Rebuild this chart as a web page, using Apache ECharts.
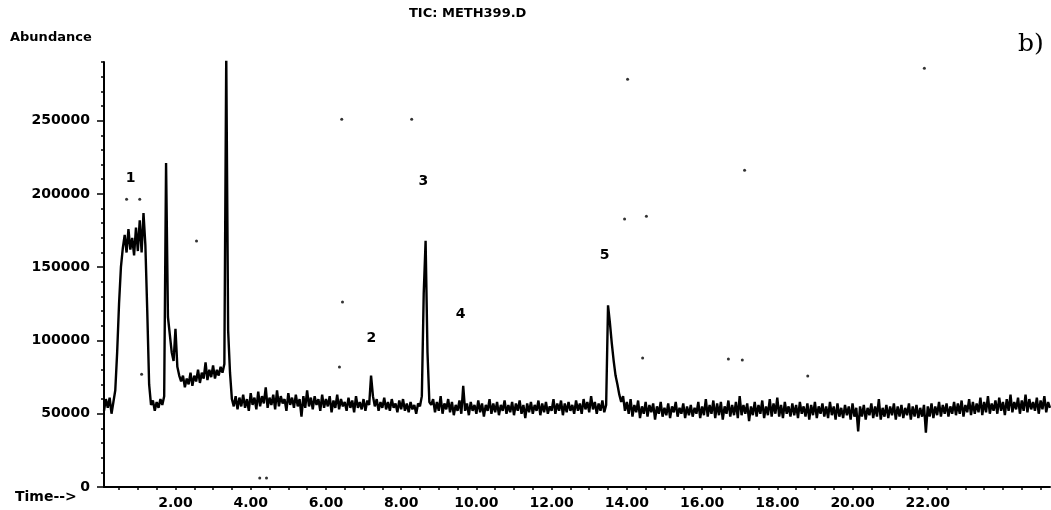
<!DOCTYPE html>
<html>
<head>
<meta charset="utf-8">
<title>TIC: METH399.D</title>
<script src="https://cdn.jsdelivr.net/npm/echarts@6/dist/echarts.min.js"></script>
<style>
  html, body { margin: 0; padding: 0; background: #fff; }
  #chart { width: 1051px; height: 510px; }
</style>
</head>
<body>
<div id="chart"></div>
<script>
// 横轴刻度（分钟）
const xTickLabels = [2, 4, 6, 8, 10, 12, 14, 16, 18, 20, 22];
const xTickMarks = [0.5, 1, 1.5, 2, 2.5, 3, 3.5, 4, 4.5, 5, 5.5, 6, 6.5, 7, 7.5, 8, 8.5, 9, 9.5, 10,
  10.5, 11, 11.5, 12, 12.5, 13, 13.5, 14, 14.5, 15, 15.5, 16, 16.5, 17, 17.5, 18, 18.5, 19, 19.5, 20,
  20.5, 21, 21.5, 22, 22.5, 23, 23.5, 24, 24.5, 25];
// 纵轴刻度
const yTickLabels = [0, 50000, 100000, 150000, 200000, 250000];
const yMinorTicks = [10000, 20000, 30000, 40000, 60000, 70000, 80000, 90000, 110000, 120000, 130000,
  140000, 160000, 170000, 180000, 190000, 210000, 220000, 230000, 240000, 260000, 270000, 280000, 290000];

// 峰编号
const peakNames = ["1", "2", "3", "4", "5"];
const peakTimes = [0.81, 7.21, 8.59, 9.58, 13.41];
const peakLabelHeights = [210700, 101600, 208700, 118000, 158300];

// 扫描件上的杂点
const specks = [[0.70, 196400], [1.05, 196400], [2.56, 167800], [1.10, 77000], [6.42, 251000],
  [8.28, 251000], [6.44, 126200], [6.36, 81900], [4.24, 6100], [4.42, 6100], [21.91, 285800],
  [14.02, 278300], [14.52, 184800], [13.94, 182800], [17.13, 216200], [14.42, 88000],
  [16.70, 87300], [17.07, 86600], [18.81, 75700]];

// TIC 曲线 [时间, 丰度]
const tic = [
  [0.10,52000],[0.15,60000],[0.20,54000],[0.25,61000],[0.30,50000],[0.35,58000],[0.40,66000],[0.45,92000],
  [0.50,125000],[0.55,150000],[0.60,163000],[0.65,172000],[0.70,160000],[0.75,176000],[0.80,162000],
  [0.85,170000],[0.90,158000],[0.95,177000],[1.00,161000],[1.05,182000],[1.10,160000],[1.15,187000],
  [1.20,165000],[1.25,120000],[1.30,70000],[1.35,56000],[1.40,59000],[1.45,52000],[1.50,58000],
  [1.55,54000],[1.60,60000],[1.65,56000],[1.70,62000],[1.75,221000],[1.80,116000],[1.85,104000],
  [1.90,92000],[1.95,86000],[2.00,108000],[2.05,82000],[2.10,76000],[2.15,72000],[2.20,76000],
  [2.25,68000],[2.30,74000],[2.35,70000],[2.40,78000],[2.45,69000],[2.50,76000],[2.55,72000],
  [2.60,80000],[2.65,71000],[2.70,78000],[2.75,74000],[2.80,85000],[2.85,73000],[2.90,80000],
  [2.95,75000],[3.00,83000],[3.05,74000],[3.10,80000],[3.15,76000],[3.20,82000],[3.25,78000],
  [3.30,84000],[3.35,295000],[3.40,107000],[3.45,78000],[3.50,60000],[3.55,55000],
  [3.60,62000],[3.65,53000],[3.70,61000],[3.75,55000],[3.80,63000],[3.85,54000],[3.90,60000],[3.95,52000],
  [4.00,64000],[4.05,56000],[4.10,61000],[4.15,53000],[4.20,65000],[4.25,55000],[4.30,62000],[4.35,57000],
  [4.40,68000],[4.45,54000],[4.50,61000],[4.55,56000],[4.60,63000],[4.65,53000],[4.70,66000],[4.75,55000],
  [4.80,62000],[4.85,57000],[4.90,60000],[4.95,52000],[5.00,64000],[5.05,56000],[5.10,61000],[5.15,54000],
  [5.20,63000],[5.25,55000],[5.30,60000],[5.35,48000],[5.40,62000],[5.45,54000],[5.50,66000],[5.55,55000],
  [5.60,61000],[5.65,53000],[5.70,62000],[5.75,56000],[5.80,60000],[5.85,52000],[5.90,63000],[5.95,54000],
  [6.00,60000],[6.05,55000],[6.10,62000],[6.15,51000],[6.20,59000],[6.25,54000],[6.30,63000],[6.35,53000],
  [6.40,60000],[6.45,55000],[6.50,58000],[6.55,52000],[6.60,61000],[6.65,54000],[6.70,59000],[6.75,51000],
  [6.80,62000],[6.85,54000],[6.90,58000],[6.95,53000],[7.00,60000],[7.05,52000],[7.10,59000],[7.15,56000],
  [7.20,76000],[7.25,62000],[7.30,55000],[7.35,60000],[7.40,52000],[7.45,58000],[7.50,54000],[7.55,61000],
  [7.60,53000],[7.65,58000],[7.70,52000],[7.75,60000],[7.80,54000],[7.85,57000],[7.90,51000],[7.95,59000],
  [8.00,53000],[8.05,60000],[8.10,52000],[8.15,57000],[8.20,51000],[8.25,58000],[8.30,53000],[8.35,56000],
  [8.40,50000],[8.45,57000],[8.50,55000],[8.55,62000],[8.60,132000],[8.65,168000],[8.70,92000],
  [8.75,58000],[8.80,56000],[8.85,60000],[8.90,51000],[8.95,58000],
  [9.00,52000],[9.05,62000],[9.10,50000],[9.15,57000],[9.20,53000],[9.25,60000],[9.30,51000],[9.35,58000],
  [9.40,49000],[9.45,56000],[9.50,52000],[9.55,59000],[9.60,50000],[9.65,69000],[9.70,52000],[9.75,57000],
  [9.80,49000],[9.85,58000],[9.90,52000],[9.95,56000],
  [10.00,50000],[10.05,59000],[10.10,51000],[10.15,57000],[10.20,48000],[10.25,56000],[10.30,52000],
  [10.35,60000],[10.40,50000],[10.45,57000],[10.50,51000],[10.55,58000],[10.60,49000],[10.65,56000],
  [10.70,52000],[10.75,59000],[10.80,50000],[10.85,56000],[10.90,51000],[10.95,58000],
  [11.00,49000],[11.05,57000],[11.10,52000],[11.15,59000],[11.20,50000],[11.25,56000],[11.30,47000],
  [11.35,57000],[11.40,51000],[11.45,58000],[11.50,50000],[11.55,56000],[11.60,52000],[11.65,59000],
  [11.70,49000],[11.75,57000],[11.80,51000],[11.85,58000],[11.90,50000],[11.95,55000],
  [12.00,52000],[12.05,60000],[12.10,50000],[12.15,57000],[12.20,52000],[12.25,59000],[12.30,49000],
  [12.35,57000],[12.40,51000],[12.45,58000],[12.50,52000],[12.55,56000],[12.60,50000],[12.65,59000],
  [12.70,52000],[12.75,57000],[12.80,50000],[12.85,60000],[12.90,53000],[12.95,58000],
  [13.00,51000],[13.05,62000],[13.10,53000],[13.15,58000],[13.20,50000],[13.25,57000],[13.30,52000],
  [13.35,59000],[13.40,51000],[13.45,56000],[13.50,124000],[13.55,112000],[13.60,98000],[13.65,86000],
  [13.70,76000],[13.75,70000],[13.80,63000],[13.85,58000],[13.90,62000],[13.95,52000],
  [14.00,58000],[14.05,50000],[14.10,60000],[14.15,48000],[14.20,56000],[14.25,51000],[14.30,59000],
  [14.35,47000],[14.40,55000],[14.45,50000],[14.50,58000],[14.55,48000],[14.60,56000],[14.65,51000],
  [14.70,57000],[14.75,46000],[14.80,55000],[14.85,50000],[14.90,58000],[14.95,48000],
  [15.00,54000],[15.05,49000],[15.10,57000],[15.15,47000],[15.20,55000],[15.25,51000],[15.30,58000],
  [15.35,48000],[15.40,54000],[15.45,50000],[15.50,57000],[15.55,47000],[15.60,55000],[15.65,49000],
  [15.70,56000],[15.75,48000],[15.80,54000],[15.85,50000],[15.90,58000],[15.95,47000],
  [16.00,55000],[16.05,49000],[16.10,60000],[16.15,48000],[16.20,56000],[16.25,50000],[16.30,59000],
  [16.35,47000],[16.40,57000],[16.45,49000],[16.50,58000],[16.55,46000],[16.60,55000],[16.65,50000],
  [16.70,59000],[16.75,48000],[16.80,56000],[16.85,49000],[16.90,58000],[16.95,47000],
  [17.00,62000],[17.05,49000],[17.10,56000],[17.15,50000],[17.20,57000],[17.25,45000],[17.30,55000],
  [17.35,49000],[17.40,58000],[17.45,48000],[17.50,56000],[17.55,50000],[17.60,59000],[17.65,47000],
  [17.70,55000],[17.75,49000],[17.80,60000],[17.85,48000],[17.90,57000],[17.95,50000],
  [18.00,61000],[18.05,48000],[18.10,56000],[18.15,47000],[18.20,58000],[18.25,50000],[18.30,55000],
  [18.35,48000],[18.40,57000],[18.45,49000],[18.50,56000],[18.55,47000],[18.60,58000],[18.65,50000],
  [18.70,55000],[18.75,48000],[18.80,57000],[18.85,46000],[18.90,56000],[18.95,49000],
  [19.00,58000],[19.05,47000],[19.10,55000],[19.15,50000],[19.20,57000],[19.25,48000],[19.30,55000],
  [19.35,47000],[19.40,58000],[19.45,49000],[19.50,55000],[19.55,46000],[19.60,57000],[19.65,48000],
  [19.70,54000],[19.75,47000],[19.80,56000],[19.85,49000],[19.90,55000],[19.95,46000],
  [20.00,57000],[20.05,48000],[20.10,54000],[20.15,38000],[20.20,55000],[20.25,48000],[20.30,56000],
  [20.35,46000],[20.40,54000],[20.45,49000],[20.50,57000],[20.55,47000],[20.60,55000],[20.65,48000],
  [20.70,60000],[20.75,46000],[20.80,54000],[20.85,48000],[20.90,56000],[20.95,47000],
  [21.00,55000],[21.05,49000],[21.10,57000],[21.15,46000],[21.20,55000],[21.25,48000],[21.30,56000],
  [21.35,47000],[21.40,54000],[21.45,49000],[21.50,57000],[21.55,46000],[21.60,55000],[21.65,48000],
  [21.70,56000],[21.75,47000],[21.80,54000],[21.85,48000],[21.90,56000],[21.95,37000],
  [22.00,55000],[22.05,48000],[22.10,57000],[22.15,47000],[22.20,55000],[22.25,49000],[22.30,58000],
  [22.35,48000],[22.40,56000],[22.45,50000],[22.50,57000],[22.55,48000],[22.60,55000],[22.65,50000],
  [22.70,58000],[22.75,49000],[22.80,57000],[22.85,50000],[22.90,59000],[22.95,48000],
  [23.00,56000],[23.05,51000],[23.10,60000],[23.15,49000],[23.20,58000],[23.25,50000],[23.30,57000],
  [23.35,51000],[23.40,61000],[23.45,49000],[23.50,58000],[23.55,51000],[23.60,62000],[23.65,50000],
  [23.70,57000],[23.75,52000],[23.80,59000],[23.85,50000],[23.90,61000],[23.95,52000],
  [24.00,58000],[24.05,49000],[24.10,60000],[24.15,52000],[24.20,63000],[24.25,51000],[24.30,58000],
  [24.35,53000],[24.40,61000],[24.45,50000],[24.50,59000],[24.55,52000],[24.60,63000],[24.65,51000],
  [24.70,60000],[24.75,53000],[24.80,58000],[24.85,52000],[24.90,61000],[24.95,50000],
  [25.00,59000],[25.05,53000],[25.10,62000],[25.15,51000],[25.20,58000],[25.25,54000]
];

const myChart = echarts.init(document.getElementById("chart"));

const labelFont = {
  fontFamily: "DejaVu Sans",
  fontWeight: "bold",
  fontSize: 14,
  color: "#000",
};

const option = {
  animation: false,
  backgroundColor: "#fff",
  grid: { left: 104, right: 1, top: 62, bottom: 23 },
  graphic: [
    { type: "text", left: 10, top: 31, style: { text: "Abundance", font: "bold 13px 'DejaVu Sans'", fill: "#000" } },
    { type: "text", left: 15, top: 490, style: { text: "Time-->", font: "bold 14px 'DejaVu Sans'", fill: "#000" } },
    { type: "text", left: 409, top: 7, style: { text: "TIC: METH399.D", font: "bold 13px 'DejaVu Sans'", fill: "#000" } },
    { type: "text", left: 1018, top: 32, style: { text: "b)", font: "25px 'DejaVu Serif'", fill: "#000" } },
  ],
  xAxis: {
    type: "value",
    min: 0.1,
    max: 25.25,
    axisLine: { show: true, lineStyle: { color: "#000", width: 2 } },
    axisTick: { show: true, customValues: xTickMarks, length: 3, lineStyle: { color: "#000", width: 1.5 } },
    axisLabel: Object.assign({ customValues: xTickLabels, margin: 9, formatter: (v) => v.toFixed(2) }, labelFont),
    splitLine: { show: false },
  },
  yAxis: [
    {
      type: "value",
      min: 0,
      max: 290000,
      axisLine: { show: true, lineStyle: { color: "#000", width: 2 } },
      axisTick: { show: true, customValues: yTickLabels, length: 7, lineStyle: { color: "#000", width: 1.5 } },
      axisLabel: Object.assign({ customValues: yTickLabels, margin: 14, formatter: (v) => String(v) }, labelFont),
      splitLine: { show: false },
    },
    {
      // 次刻度
      type: "value",
      min: 0,
      max: 290000,
      position: "left",
      axisLine: { show: false },
      axisTick: { show: true, customValues: yMinorTicks, length: 3, lineStyle: { color: "#000", width: 1.5 } },
      axisLabel: { show: false },
      splitLine: { show: false },
    },
  ],
  series: [
    {
      name: "TIC",
      type: "line",
      data: tic,
      symbol: "none",
      sampling: null,
      clip: true,
      lineStyle: { color: "#000", width: 2.4 },
    },
    {
      name: "peaks",
      type: "scatter",
      symbolSize: 0,
      itemStyle: { color: "#000", opacity: 1 },
      data: peakNames.map((n, i) => ({ name: n, value: [peakTimes[i], peakLabelHeights[i]] })),
      label: Object.assign({ show: true, position: "inside", textBorderWidth: 0, formatter: (p) => p.name }, labelFont),
    },
    {
      name: "specks",
      type: "scatter",
      symbolSize: 3,
      itemStyle: { color: "#000" },
      data: specks,
    },
  ],
};

myChart.setOption(option);
window.addEventListener("resize", function () {
  myChart.resize();
});
</script>
</body>
</html>
